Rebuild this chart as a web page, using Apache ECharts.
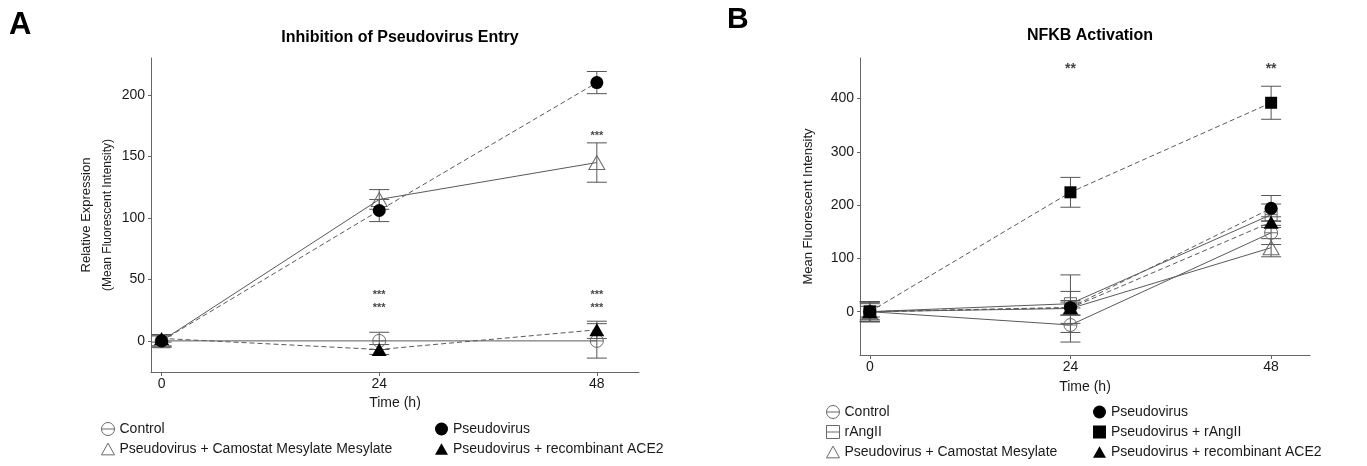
<!DOCTYPE html>
<html>
<head>
<meta charset="utf-8">
<script src="https://cdn.jsdelivr.net/npm/echarts@6/dist/echarts.min.js"></script>
<style>
html,body{margin:0;padding:0;background:#fff;}
#chart{width:1367px;height:466px;}
</style>
</head>
<body>
<div id="chart"></div>
<script>
// ---------- DATA ----------
const times = [0, 24, 48];
const xTicks = [0, 24, 48];
const yTicksA = [0, 50, 100, 150, 200];
const yTicksB = [0, 100, 200, 300, 400];

// Panel A: Inhibition of Pseudovirus Entry
const controlA = [0, 0, 0];
const controlAErr = [5, 7, 14];
const pseudoA = [0, 106, 210];
const pseudoAErr = [4, 9, 9];
const camostatA = [0, 115, 145];
const camostatAErr = [5, 8, 16];
const ace2A = [2, -7, 9];
const ace2AErr = [3, 4, 7];
const starsA = [[24, 37, '***'], [24, 27, '***'], [48, 37, '***'], [48, 27, '***'], [48, 167, '***']];

// Panel B: NFKB Activation
const controlB = [0, -25, 148];
const controlBErr = [19, 32, 22];
const rAngIIB = [0, 15, 182];
const rAngIIBErr = [19, 54, 20];
const camostatB = [0, 6, 120];
const camostatBErr = [15, 12, 17];
const pseudoB = [0, 8, 194];
const pseudoBErr = [18, 30, 24];
const pvAngB = [0, 224, 392];
const pvAngBErr = [18, 28, 31];
const ace2B = [0, 7, 168];
const ace2BErr = [10, 14, 10];
const starsB = [[24, 456, '**'], [48, 456, '**']];

// ---------- STYLE ----------
const FONT = '"Liberation Sans", Arial, Helvetica, sans-serif';
const TXT = '#1a1a1a';
const LINE = '#5a5a5a';
const OPEN = '#6a6a6a';
const SYM_CIRC_LINE = 'path://M0,10A10,10,0,1,1,20,10A10,10,0,1,1,0,10ZM0,10L20,10';
const SYM_SQ_LINE = 'path://M0,0L20,0L20,20L0,20ZM0,10L20,10';
const SYM_TRI = 'path://M10,0L20,18L0,18Z';

const names = {
  control: 'Control',
  pseudo: 'Pseudovirus',
  camA: 'Pseudovirus + Camostat Mesylate Mesylate',
  camB: 'Pseudovirus + Camostat Mesylate',
  ace2: 'Pseudovirus + recombinant ACE2',
  rang: 'rAngII',
  pvang: 'Pseudovirus + rAngII'
};

const styles = {
  control: {symbol: SYM_CIRC_LINE, size: 13, open: true, dash: false},
  pseudo: {symbol: 'circle', size: 13, open: false, dash: true},
  camA: {symbol: SYM_TRI, size: [16, 14], open: true, dash: false},
  camB: {symbol: SYM_TRI, size: [16, 14], open: true, dash: false},
  ace2: {symbol: SYM_TRI, size: [15, 13], open: false, dash: true},
  rang: {symbol: SYM_SQ_LINE, size: 12, open: true, dash: false},
  pvang: {symbol: 'rect', size: 12, open: false, dash: true}
};

function itemStyleOf(st) {
  return st.open
    ? {color: 'rgba(255,255,255,0)', borderColor: OPEN, borderWidth: 1}
    : {color: '#000', borderColor: '#000', borderWidth: 0};
}

function lineSeries(key, vals, gi) {
  const st = styles[key];
  return {
    type: 'line', name: names[key], xAxisIndex: gi, yAxisIndex: gi,
    data: times.map((t, i) => [t, vals[i]]),
    symbol: st.symbol, symbolSize: st.size, showSymbol: true,
    itemStyle: itemStyleOf(st),
    lineStyle: {color: LINE, width: 1, type: st.dash ? [5, 3] : 'solid'},
    z: st.open ? 3 : 4, animation: false, silent: true
  };
}

function errSeries(vals, errs, gi) {
  return {
    type: 'custom', xAxisIndex: gi, yAxisIndex: gi, silent: true, animation: false, z: 2,
    data: times.map((t, i) => [t, vals[i] - errs[i], vals[i] + errs[i]]),
    encode: {x: 0, y: [1, 2]},
    clip: false,
    renderItem: function (params, api) {
      const x = api.value(0);
      const lo = api.coord([x, api.value(1)]);
      const hi = api.coord([x, api.value(2)]);
      const w = 10;
      const s = {stroke: '#555', lineWidth: 1};
      return {type: 'group', children: [
        {type: 'line', shape: {x1: lo[0], y1: lo[1], x2: hi[0], y2: hi[1]}, style: s},
        {type: 'line', shape: {x1: lo[0] - w, y1: lo[1], x2: lo[0] + w, y2: lo[1]}, style: s},
        {type: 'line', shape: {x1: hi[0] - w, y1: hi[1], x2: hi[0] + w, y2: hi[1]}, style: s}
      ]};
    }
  };
}

function starSeries(data, gi, size) {
  return {
    type: 'scatter', xAxisIndex: gi, yAxisIndex: gi, silent: true, animation: false,
    data: data, symbolSize: 1, itemStyle: {color: 'rgba(0,0,0,0)'}, z: 6,
    label: {show: true, position: 'inside', formatter: p => p.value[2],
      fontFamily: FONT, fontWeight: 'bold', fontSize: size, color: '#111'}
  };
}

function legendItem(key) {
  const st = styles[key];
  return {name: names[key], icon: st.symbol === 'rect' ? 'rect' : st.symbol, itemStyle: itemStyleOf(st)};
}

function xAxisOf(gi) {
  return {
    type: 'value', gridIndex: gi, min: -1.17, max: 52.65,
    name: 'Time (h)', nameLocation: 'middle', nameGap: gi === 0 ? 21 : 25,
    nameTextStyle: {fontFamily: FONT, fontSize: 14, color: TXT},
    axisLine: {show: true, onZero: false, lineStyle: {color: '#666', width: 1}},
    axisTick: {show: true, length: 4, customValues: xTicks, lineStyle: {color: '#666'}},
    axisLabel: {customValues: xTicks, fontFamily: FONT, fontSize: 14, color: TXT, margin: 5},
    splitLine: {show: false}
  };
}

function yAxisOf(gi, min, max, ticks, name, gap) {
  return {
    type: 'value', gridIndex: gi, min: min, max: max,
    name: name, nameLocation: 'middle', nameGap: gap,
    nameTextStyle: {fontFamily: FONT, fontSize: 13, color: TXT, lineHeight: 20,
      rich: {a: {fontFamily: FONT, fontSize: 13, color: TXT, lineHeight: 21},
             b: {fontFamily: FONT, fontSize: 12, color: TXT, lineHeight: 21}}},
    axisLine: {show: true, onZero: false, lineStyle: {color: '#666', width: 1}},
    axisTick: {show: true, length: 3, customValues: ticks, lineStyle: {color: '#666'}},
    axisLabel: {customValues: ticks, fontFamily: FONT, fontSize: 14, color: TXT, margin: 6},
    splitLine: {show: false}
  };
}

const legendCommon = {
  orient: 'vertical', itemWidth: 13, itemHeight: 13, itemGap: 6,
  textStyle: {fontFamily: FONT, fontSize: 14, color: TXT},
  selectedMode: false, padding: 0
};

const option = {
  backgroundColor: '#fff',
  animation: false,
  title: [
    {text: 'A', left: 4, top: 5, textStyle: {fontFamily: FONT, fontSize: 31, fontWeight: 'bold', color: '#000'}},
    {text: 'B', left: 722, top: 0, textStyle: {fontFamily: FONT, fontSize: 30, fontWeight: 'bold', color: '#000'}},
    {text: 'Inhibition of Pseudovirus Entry', left: 395, top: 25, textAlign: 'center',
      textStyle: {fontFamily: FONT, fontSize: 16, fontWeight: 'bold', color: '#000'}},
    {text: 'NFKB Activation', left: 1085, top: 23, textAlign: 'center',
      textStyle: {fontFamily: FONT, fontSize: 16, fontWeight: 'bold', color: '#000'}}
  ],
  grid: [
    {left: 151, top: 58, width: 488, height: 314, containLabel: false},
    {left: 860, top: 58, width: 450, height: 297, containLabel: false}
  ],
  xAxis: [xAxisOf(0), xAxisOf(1)],
  yAxis: [
    yAxisOf(0, -25.3, 230, yTicksA, '{a|Relative Expression}\n{b|(Mean Fluorescent Intensity)}', 32),
    yAxisOf(1, -81.3, 476, yTicksB, 'Mean Fluorescent Intensity', 42)
  ],
  legend: [
    Object.assign({}, legendCommon, {left: 101, top: 422, data: [legendItem('control'), legendItem('camA')]}),
    Object.assign({}, legendCommon, {left: 435, top: 422, data: [legendItem('pseudo'), legendItem('ace2')]}),
    Object.assign({}, legendCommon, {left: 826, top: 405, data: [legendItem('control'), legendItem('rang'), legendItem('camB')]}),
    Object.assign({}, legendCommon, {left: 1093, top: 405, data: [legendItem('pseudo'), legendItem('pvang'), legendItem('ace2')]})
  ],
  series: [
    errSeries(controlA, controlAErr, 0),
    errSeries(camostatA, camostatAErr, 0),
    errSeries(pseudoA, pseudoAErr, 0),
    errSeries(ace2A, ace2AErr, 0),
    lineSeries('control', controlA, 0),
    lineSeries('camA', camostatA, 0),
    lineSeries('pseudo', pseudoA, 0),
    lineSeries('ace2', ace2A, 0),
    starSeries(starsA, 0, 11),

    errSeries(controlB, controlBErr, 1),
    errSeries(rAngIIB, rAngIIBErr, 1),
    errSeries(camostatB, camostatBErr, 1),
    errSeries(pseudoB, pseudoBErr, 1),
    errSeries(pvAngB, pvAngBErr, 1),
    errSeries(ace2B, ace2BErr, 1),
    lineSeries('control', controlB, 1),
    lineSeries('rang', rAngIIB, 1),
    lineSeries('camB', camostatB, 1),
    lineSeries('pseudo', pseudoB, 1),
    lineSeries('pvang', pvAngB, 1),
    lineSeries('ace2', ace2B, 1),
    starSeries(starsB, 1, 14)
  ]
};

const chart = echarts.init(document.getElementById('chart'), null, {renderer: 'canvas'});
chart.setOption(option);
</script>
</body>
</html>
